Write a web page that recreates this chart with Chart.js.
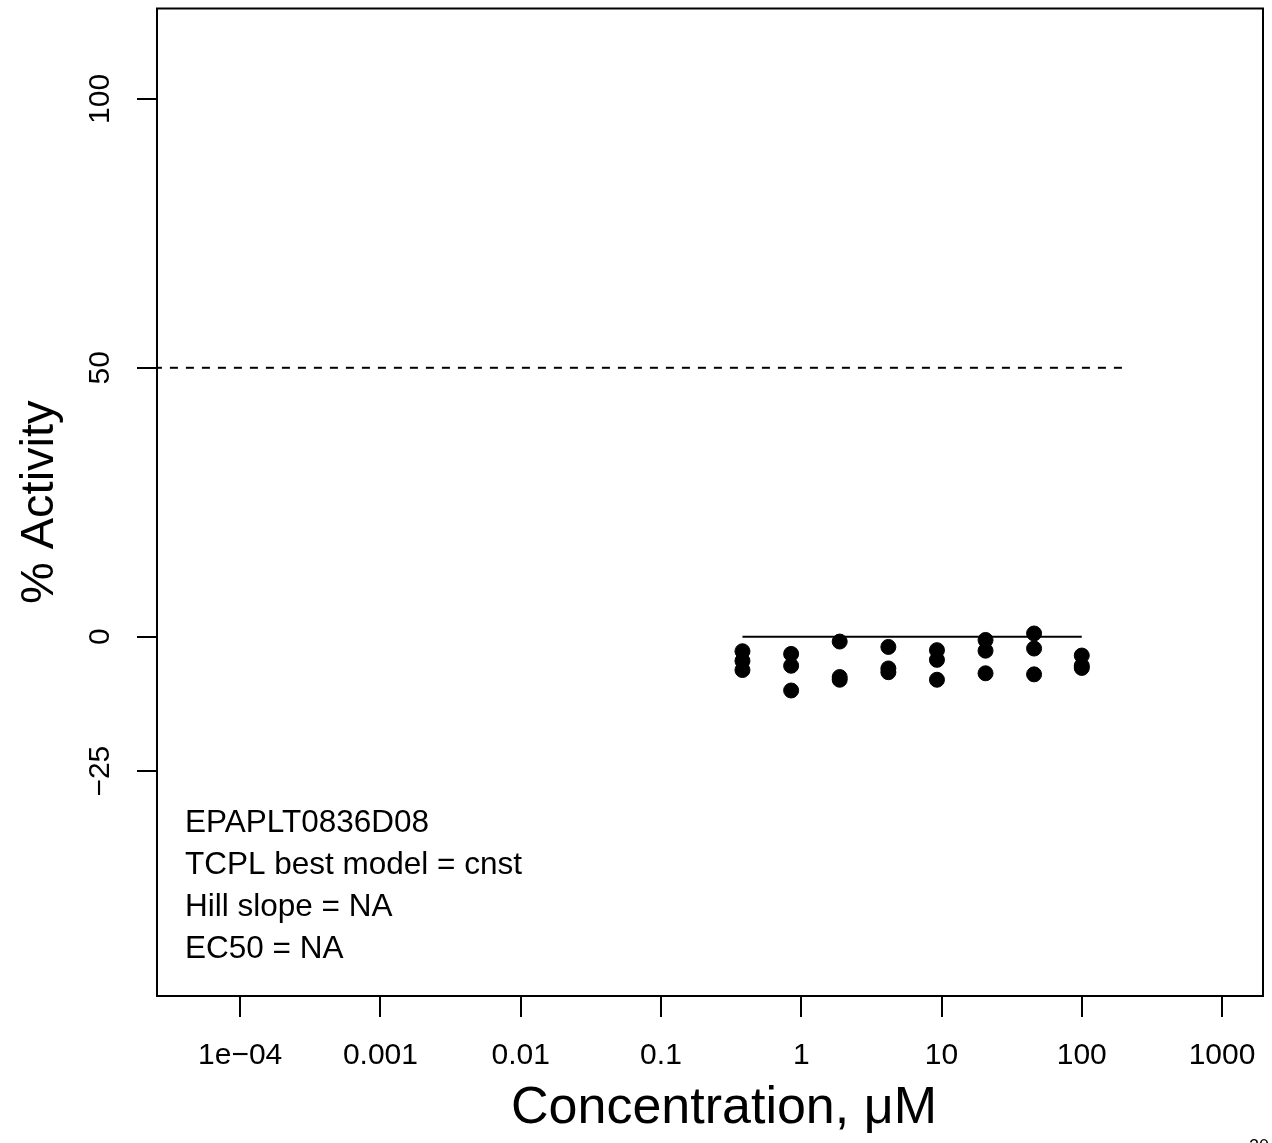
<!DOCTYPE html>
<html>
<head>
<meta charset="utf-8">
<script src="https://cdn.jsdelivr.net/npm/chart.js@4.4.1/dist/chart.umd.min.js"></script>
<style>
  html, body { margin: 0; padding: 0; background: #fff; }
  canvas { display: block; }
</style>
</head>
<body>
<canvas id="curva" width="1272" height="1143"></canvas>
<script>
// concentrations (uM) and the three replicate responses (% activity)
const concentrations = [0.381, 0.847, 1.88, 4.18, 9.28, 20.6, 45.7, 100];
const rep1 = [-2.7, -3.2, -0.9, -1.9, -2.5, -0.6, 0.6, -3.5];
const rep2 = [-4.5, -5.4, -7.5, -5.9, -4.3, -2.6, -2.2, -5.4];
const rep3 = [-6.2, -10.0, -8.0, -6.6, -8.0, -6.8, -7.0, -5.8];

// constant model fit and 50% cutoff
const fitX = [0.381, 100];
const fitY = [0, 0];
const cutoffX = [1e-5, 200];
const cutoffY = [50, 50];

const xTicks = [1e-4, 1e-3, 1e-2, 0.1, 1, 10, 100, 1000];
const xTickLabels = ["1e\u221204", "0.001", "0.01", "0.1", "1", "10", "100", "1000"];
const yTicks = [-25, 0, 50, 100];
const yTickLabels = ["\u221225", "0", "50", "100"];

const infoLines = ["EPAPLT0836D08", "TCPL best model = cnst", "Hill slope = NA", "EC50 = NA"];
const xTitle = "Concentration, \u03bcM";

const fontFamily = "'Liberation Sans', Arial, sans-serif";

const points = [];
[rep1, rep2, rep3].forEach((rep) => {
  rep.forEach((v, i) => points.push({ x: concentrations[i], y: v }));
});

const framePlugin = {
  id: "frame",
  afterDraw(chart) {
    const { ctx, chartArea: a } = chart;
    ctx.save();
    ctx.strokeStyle = "#000";
    ctx.lineWidth = 2;
    ctx.strokeRect(a.left, a.top, a.right - a.left, a.bottom - a.top);
    ctx.fillStyle = "#000";
    ctx.textBaseline = "alphabetic";

    // legend-like text block, bottom left of the plot
    ctx.font = "31.5px " + fontFamily;
    ctx.textAlign = "left";
    infoLines.forEach((t, i) => {
      ctx.fillText(t, a.left + 28, a.bottom - 164 + i * 42);
    });

    // x axis title
    ctx.font = "52px " + fontFamily;
    ctx.textAlign = "center";
    ctx.fillText(xTitle, (a.left + a.right) / 2 + 14, 1123);

    ctx.font = "18px " + fontFamily;
    ctx.textAlign = "left";
    ctx.fillText("20", 1249, 1152);
    ctx.restore();
  },
};

const ctx = document.getElementById("curva").getContext("2d");

new Chart(ctx, {
  type: "scatter",
  data: {
    datasets: [
      {
        data: cutoffX.map((x, i) => ({ x: x, y: cutoffY[i] })),
        showLine: true,
        borderColor: "#000",
        borderWidth: 2,
        borderDash: [8, 8],
        borderDashOffset: 10,
        pointRadius: 0,
      },
      {
        data: fitX.map((x, i) => ({ x: x, y: fitY[i] })),
        showLine: true,
        borderColor: "#000",
        borderWidth: 2,
        pointRadius: 0,
      },
      {
        data: points,
        backgroundColor: "#000",
        borderColor: "#000",
        pointRadius: 7.5,
        pointBorderWidth: 1,
      },
    ],
  },
  options: {
    responsive: false,
    devicePixelRatio: 1,
    animation: false,
    layout: {
      padding: { top: 4, right: 9, left: 0, bottom: 0 },
    },
    plugins: {
      legend: { display: false },
      tooltip: { enabled: false },
    },
    scales: {
      x: {
        type: "logarithmic",
        min: Math.pow(10, -4.593),
        max: Math.pow(10, 3.292),
        afterBuildTicks: (scale) => {
          scale.ticks = xTicks.map((v) => ({ value: v }));
        },
        afterFit: (scale) => {
          scale.height = 147;
          scale.paddingLeft = 0;
          scale.paddingRight = 0;
        },
        grid: {
          drawOnChartArea: false,
          tickLength: 21,
          tickColor: "#000",
          lineWidth: 2,
        },
        border: { display: false },
        ticks: {
          autoSkip: false,
          maxRotation: 0,
          padding: 21,
          color: "#000",
          font: { family: fontFamily, size: 30 },
          callback: (value, index) => xTickLabels[index],
        },
      },
      y: {
        type: "linear",
        min: -66.8,
        max: 116.8,
        afterBuildTicks: (scale) => {
          scale.ticks = yTicks.map((v) => ({ value: v }));
        },
        afterFit: (scale) => {
          scale.width = 157;
          scale.paddingTop = 0;
          scale.paddingBottom = 0;
        },
        grid: {
          drawOnChartArea: false,
          tickLength: 20,
          tickColor: "#000",
          lineWidth: 2,
        },
        border: { display: false },
        ticks: {
          minRotation: 90,
          maxRotation: 90,
          crossAlign: "center",
          padding: 11,
          color: "#000",
          font: { family: fontFamily, size: 30 },
          callback: (value, index) => yTickLabels[index],
        },
        title: {
          display: true,
          text: "% Activity",
          color: "#000",
          font: { family: fontFamily, size: 47 },
          padding: { top: 12, bottom: 0 },
        },
      },
    },
  },
  plugins: [framePlugin],
});
</script>
</body>
</html>
